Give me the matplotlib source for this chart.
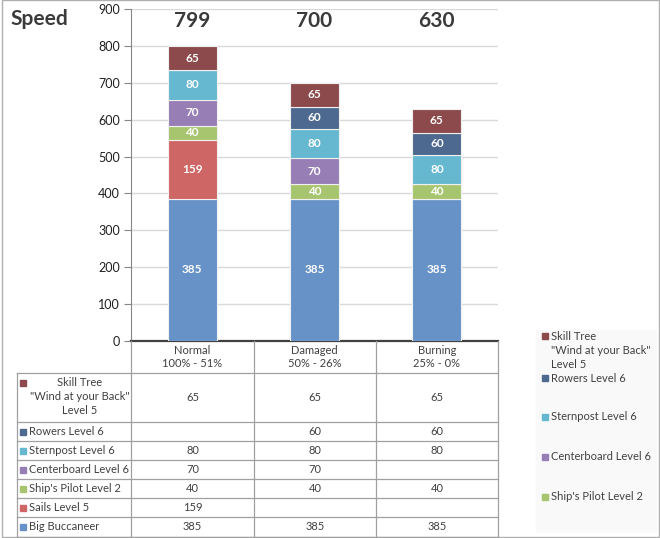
import numpy as np
import matplotlib.pyplot as plt
from matplotlib.lines import Line2D
from matplotlib.patches import Rectangle

plt.rcParams['font.family'] = ['Lato', 'DejaVu Sans']

# ---- data ----
categories = ["Normal\n100% - 51%", "Damaged\n50% - 26%", "Burning\n25% - 0%"]

# stack order, bottom -> top
series_names = [
    "Big Buccaneer",
    "Sails Level 5",
    "Ship's Pilot Level 2",
    "Centerboard Level 6",
    "Sternpost Level 6",
    "Rowers Level 6",
    "Skill Tree\n\"Wind at your Back\"\nLevel 5",
]
big_buccaneer = [385, 385, 385]
sails = [159, None, None]
ships_pilot = [40, 40, 40]
centerboard = [70, 70, None]
sternpost = [80, 80, 80]
rowers = [None, 60, 60]
skill_tree = [65, 65, 65]
series_values = [big_buccaneer, sails, ships_pilot, centerboard, sternpost, rowers, skill_tree]

colors = ['#6792C8', '#CD6664', '#A7C46F', '#977EB4', '#66B8D0', '#4D6990', '#8C4A4C']

W, H = 660, 538


def fx(px):
    return px / W


def fy(py):
    return 1 - py / H


fig = plt.figure(figsize=(W / 100, H / 100), dpi=100)

# plot area in pixels
L, R, T, B = 131, 498, 9, 341
ax = fig.add_axes([fx(L), fy(B), (R - L) / W, (B - T) / H])

x = np.arange(len(categories))
bottom = np.zeros(len(categories))
for name, vals, col in zip(series_names, series_values, colors):
    v = np.array([0 if a is None else a for a in vals], dtype=float)
    ax.bar(x, v, 0.4, bottom=bottom, color=col, edgecolor='#F0F0F0', linewidth=0.8, zorder=3)
    for xi, bi, vi in zip(x, bottom, v):
        if vi > 0:
            ax.text(xi, bi + vi / 2, f"{int(vi)}", ha='center', va='center',
                    color='white', fontsize=8.5, fontweight='bold', zorder=4)
    bottom += v

for xi, tot in zip(x, bottom):
    ax.text(xi, 868, f"{int(tot)}", ha='center', va='center', fontsize=15,
            fontweight='bold', color='#3A3A3A')

ax.set_xlim(-0.5, len(categories) - 0.5)
ax.set_ylim(0, 900)
ax.set_yticks(np.arange(0, 901, 100))
ax.yaxis.grid(True, color='#D9D9D9', linewidth=1, zorder=0)
ax.set_axisbelow(True)
ax.set_xticks(x, categories)
ax.tick_params(axis='x', length=0, pad=3, labelsize=8, labelcolor='#404040')
ax.tick_params(axis='y', length=5, width=0.8, color='#868686', labelsize=9, labelcolor='#202020', pad=3)
for s in ['top', 'right']:
    ax.spines[s].set_visible(False)
ax.spines['left'].set_color('#868686')
ax.spines['bottom'].set_color('#404040')
ax.spines['bottom'].set_linewidth(1.6)

fig.text(fx(10), fy(19), "Speed", fontsize=15, fontweight='bold', color='#3A3A3A', va='center', ha='left')

# ---- data table ----
line_col = '#A0A0A0'
col_edges = [17, 131, 254, 376, 498]
row_edges = [373, 422, 441, 460, 479, 498, 517, 537]


def hline(x0, x1, y, c=line_col, lw=0.9):
    fig.add_artist(Line2D([fx(x0), fx(x1)], [fy(y), fy(y)], color=c, linewidth=lw))


def vline(xp, y0, y1, c=line_col, lw=0.9):
    fig.add_artist(Line2D([fx(xp), fx(xp)], [fy(y0), fy(y1)], color=c, linewidth=lw))


def multiline(xp, y_first, text, step, ha):
    for k, part in enumerate(text.split("\n")):
        fig.text(fx(xp), fy(y_first + k * step), part, ha=ha, va='center',
                 fontsize=8, color='#404040')


for ce in col_edges[1:]:
    vline(ce, B, row_edges[-1])
vline(col_edges[0], row_edges[0], row_edges[-1])
for re_ in row_edges:
    hline(col_edges[0], col_edges[-1], re_)

col_centers = [(a + b) / 2 for a, b in zip(col_edges[1:-1], col_edges[2:])]
table_rows = list(zip(series_names, series_values, colors))[::-1]
for i, (name, vals, col) in enumerate(table_rows):
    y0, y1 = row_edges[i], row_edges[i + 1]
    yc = (y0 + y1) / 2
    if "\n" in name:
        fig.add_artist(Rectangle((fx(20), fy(386)), 6 / W, 6 / H, color=col))
        multiline(80, 383, name, 14, 'center')
    else:
        fig.add_artist(Rectangle((fx(20), fy(yc + 3)), 6 / W, 6 / H, color=col))
        fig.text(fx(29), fy(yc), name, ha='left', va='center', fontsize=8, color='#404040')
    for cx, v in zip(col_centers, vals):
        if v is not None:
            fig.text(fx(cx), fy(yc), f"{v}", ha='center', va='center', fontsize=8, color='#404040')

# ---- legend (cut off, as in the original) ----
fig.add_artist(Rectangle((fx(536), fy(532)), 120 / W, 202 / H, color='#F9F9F9', zorder=0))
legend_items = [6, 5, 4, 3, 2]
legend_y = [336, 378, 417, 457, 497]
for idx, ly in zip(legend_items, legend_y):
    name = series_names[idx]
    fig.add_artist(Rectangle((fx(542), fy(ly + 3)), 6 / W, 6 / H, color=colors[idx]))
    multiline(551, ly, name, 14, 'left')

# outer border
fig.add_artist(Rectangle((fx(2), fy(537)), 657 / W, 537 / H, fill=False,
                         edgecolor='#B0B0B0', linewidth=1))

fig.savefig("out.png", dpi=100)
